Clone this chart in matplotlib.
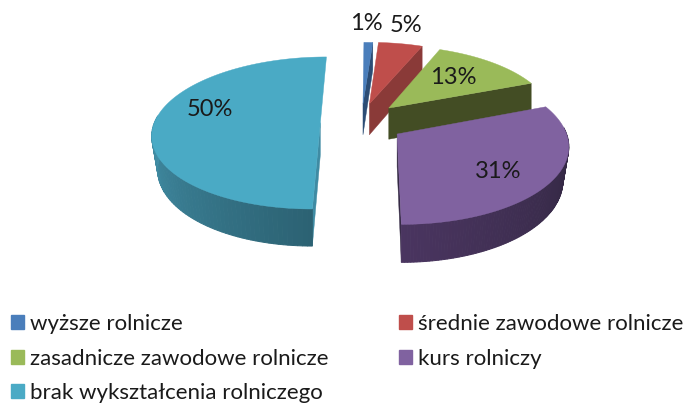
import numpy as np
import matplotlib
matplotlib.use("Agg")
import matplotlib.pyplot as plt
from matplotlib.patches import Patch

labels = ["wyższe rolnicze", "średnie zawodowe rolnicze", "zasadnicze zawodowe rolnicze",
          "kurs rolniczy", "brak wykształcenia rolniczego"]
values = [1, 5, 13, 31, 50]

top_colors = ["#4a7ebb", "#bf4e4b", "#9aba59", "#8062a0", "#4aaac5"]
cut_colors = ["#2c4d75", "#8a3a38", "#434d24", "#352a45", "#3f8ba3"]
wall_near = ["#2c4d75", "#8a3a38", "#434d24", "#4a3560", "#2c6273"]
wall_far = ["#2c4d75", "#8a3a38", "#434d24", "#30263f", "#4391a9"]

# pie offset per slice in pie-plane units (x right, y away from viewer)
offsets = [(-0.05, 0.26), (-0.01, 0.26), (0.11, 0.2), (0.154, -0.15), (-0.305, 0.0)]
label_xy = [(366, 24), (406, 26), (453, 77), (498, 172), (210, 109)]

VP_X, VP_Y = 371, -424
SCALE_X, SCALE_Y, PERSP = 166, 546.6, 0.1365
THICK = 32
BOTTOM_INSET = 6
font = ["Lato", "DejaVu Sans"]


def project(x, y):
    w = 1 + PERSP * y
    return VP_X + SCALE_X * x / w, VP_Y + SCALE_Y / w, THICK / w


def mix(c1, c2, t):
    a, b = np.array(matplotlib.colors.to_rgb(c1)), np.array(matplotlib.colors.to_rgb(c2))
    return a + (b - a) * t


def draw_slice(ax, start, end, dx, dy, i):
    ang = np.radians(np.linspace(start, end, 120))
    u, v, t = project(dx + np.sin(ang), dy + np.cos(ang))
    u0, v0, t0 = project(dx, dy)
    # lower rim sits a little inside the upper one at the sides
    ub = u - BOTTOM_INSET * np.sin(ang)

    # flat wall on the visible cut edge, the last slice shows its first edge
    j = 0 if i == 4 else -1
    ax.fill([u0, u[j], u[j], u0], [v0, v[j], v[j] + t[j], v0 + t0],
            color=cut_colors[i], lw=0.3, zorder=i)

    # curved outer wall, shaded in small strips
    degs = np.degrees(ang)
    for k in range(len(ang) - 1):
        if 85 < degs[k] < 275:
            col = mix(wall_near[i], wall_far[i], abs(degs[k] - 180) / 90)
            ax.fill([u[k], u[k + 1], ub[k + 1], ub[k]],
                    [v[k], v[k + 1], v[k + 1] + t[k + 1], v[k] + t[k]],
                    color=col, lw=0.7, zorder=i)

    ax.fill(np.r_[u0, u], np.r_[v0, v], color=top_colors[i], lw=0.3, zorder=i + 0.5)


fig = plt.figure(figsize=(6.87, 4.03), dpi=100)
ax = fig.add_axes([0, 0, 1, 1])
ax.set_xlim(0, 687)
ax.set_ylim(403, 0)
ax.axis("off")

edges = np.cumsum([0] + values) / sum(values) * 360
for i, val in enumerate(values):
    draw_slice(ax, edges[i], edges[i + 1], offsets[i][0], offsets[i][1], i)
    ax.text(*label_xy[i], f"{val}%", ha="center", va="center", fontsize=17,
            family=font, color="#1a1a1a", zorder=10)

order = [0, 2, 4, 1, 3]
handles = [Patch(color=top_colors[i], label=labels[i]) for i in order]
ax.legend(handles=handles, ncol=2, loc="upper left", bbox_to_anchor=(0.0, 1 - 303 / 403),
          frameon=False, prop={"family": font, "size": 16}, handlelength=0.58,
          handleheight=0.58, handletextpad=0.26, labelspacing=0.65, columnspacing=3.19,
          borderpad=0.5, borderaxespad=0, labelcolor="#1a1a1a")

fig.savefig("out.png", dpi=100)
